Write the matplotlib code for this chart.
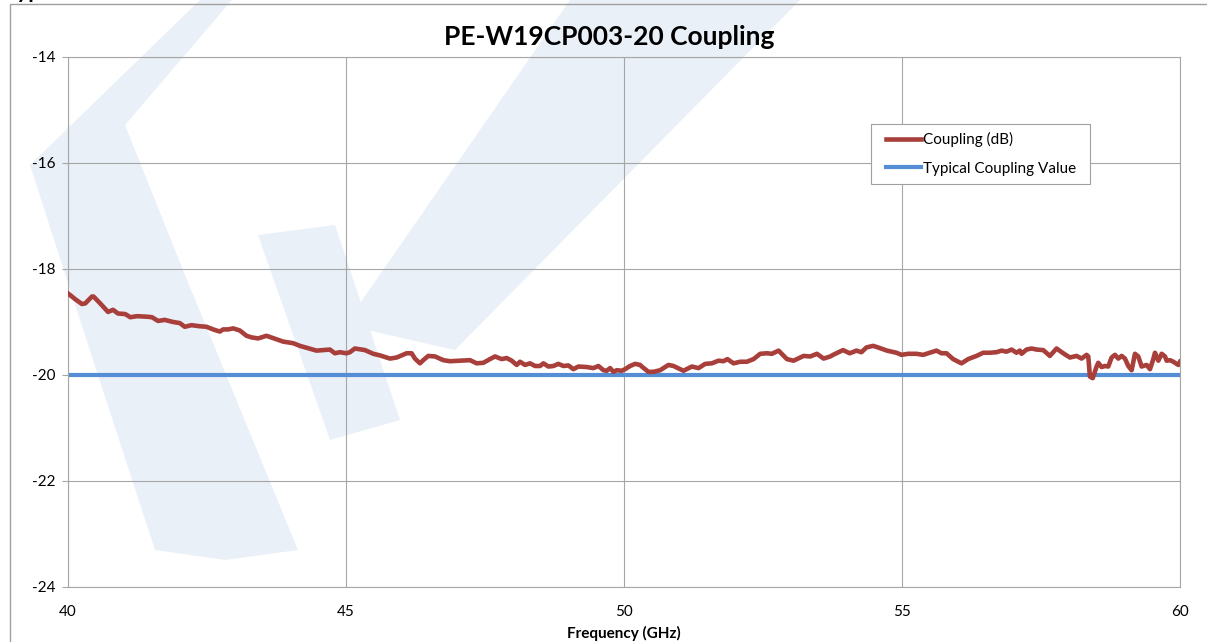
import numpy as np
import matplotlib
matplotlib.use("Agg")
import matplotlib.pyplot as plt
from matplotlib.patches import Polygon, Rectangle

plt.rcParams['font.family'] = ['Lato', 'DejaVu Sans']

freq_ghz = [
    40.00, 40.13, 40.25, 40.31, 40.43, 40.46, 40.58, 40.72, 40.81, 40.90,
    41.03, 41.12, 41.24, 41.42, 41.51, 41.62, 41.74, 41.89, 42.01, 42.10,
    42.22, 42.37, 42.49, 42.61, 42.73, 42.79, 42.88, 42.97, 43.09, 43.21,
    43.30, 43.42, 43.57, 43.87, 44.05, 44.17, 44.47, 44.71, 44.80, 44.89,
    45.01, 45.07, 45.16, 45.34, 45.49, 45.61, 45.79, 45.91, 46.09, 46.18,
    46.24, 46.33, 46.39, 46.48, 46.60, 46.75, 46.87, 47.05, 47.23, 47.35,
    47.47, 47.59, 47.68, 47.80, 47.89, 47.98, 48.07, 48.13, 48.22, 48.31,
    48.40, 48.49, 48.55, 48.64, 48.73, 48.82, 48.91, 49.00, 49.09, 49.18,
    49.33, 49.45, 49.54, 49.63, 49.69, 49.75, 49.81, 49.87, 49.96, 50.02,
    50.11, 50.20, 50.29, 50.32, 50.44, 50.53, 50.65, 50.80, 50.89, 51.07,
    51.22, 51.34, 51.46, 51.58, 51.70, 51.79, 51.86, 51.97, 52.09, 52.21,
    52.33, 52.45, 52.57, 52.66, 52.78, 52.93, 53.05, 53.23, 53.35, 53.47,
    53.59, 53.71, 53.76, 53.94, 54.06, 54.18, 54.27, 54.36, 54.48, 54.57,
    54.73, 54.90, 54.99, 55.11, 55.26, 55.38, 55.50, 55.62, 55.71, 55.80,
    55.92, 56.07, 56.19, 56.34, 56.46, 56.58, 56.70, 56.79, 56.88, 56.97,
    57.06, 57.12, 57.15, 57.24, 57.33, 57.42, 57.54, 57.66, 57.78, 57.90,
    58.02, 58.14, 58.23, 58.32, 58.35, 58.38, 58.43, 58.50, 58.53, 58.59,
    58.65, 58.71, 58.77, 58.83, 58.89, 58.95, 59.01, 59.07, 59.13, 59.19,
    59.25, 59.31, 59.40, 59.46, 59.52, 59.55, 59.61, 59.67, 59.73, 59.76,
    59.82, 59.88, 59.97, 60.00,
]
coupling_db = [
    -18.46, -18.57, -18.66, -18.65, -18.52, -18.52, -18.65, -18.81, -18.77, -18.84,
    -18.85, -18.91, -18.89, -18.90, -18.91, -18.98, -18.96, -19.00, -19.02, -19.09,
    -19.06, -19.08, -19.09, -19.14, -19.18, -19.14, -19.14, -19.12, -19.16, -19.26,
    -19.29, -19.31, -19.26, -19.37, -19.40, -19.45, -19.54, -19.52, -19.59, -19.57,
    -19.59, -19.57, -19.50, -19.53, -19.60, -19.63, -19.69, -19.67, -19.59, -19.59,
    -19.69, -19.78, -19.72, -19.64, -19.65, -19.72, -19.74, -19.73, -19.72, -19.78,
    -19.77, -19.70, -19.65, -19.70, -19.68, -19.73, -19.81, -19.75, -19.81, -19.78,
    -19.83, -19.83, -19.78, -19.84, -19.83, -19.79, -19.83, -19.82, -19.89, -19.84,
    -19.85, -19.87, -19.83, -19.91, -19.92, -19.87, -19.94, -19.91, -19.92, -19.89,
    -19.83, -19.79, -19.81, -19.84, -19.94, -19.94, -19.91, -19.81, -19.83, -19.92,
    -19.84, -19.87, -19.79, -19.78, -19.73, -19.74, -19.70, -19.78, -19.75, -19.75,
    -19.70, -19.60, -19.59, -19.60, -19.54, -19.70, -19.73, -19.64, -19.65, -19.60,
    -19.69, -19.65, -19.62, -19.53, -19.59, -19.54, -19.57, -19.48, -19.45, -19.48,
    -19.54, -19.58, -19.62, -19.60, -19.60, -19.62, -19.58, -19.54, -19.59, -19.59,
    -19.70, -19.78, -19.70, -19.64, -19.58, -19.58, -19.57, -19.54, -19.56, -19.52,
    -19.58, -19.54, -19.60, -19.52, -19.50, -19.52, -19.53, -19.64, -19.50, -19.59,
    -19.67, -19.64, -19.69, -19.62, -19.65, -20.03, -20.06, -19.84, -19.77, -19.85,
    -19.83, -19.84, -19.67, -19.62, -19.69, -19.64, -19.69, -19.83, -19.91, -19.60,
    -19.65, -19.84, -19.81, -19.89, -19.70, -19.58, -19.73, -19.60, -19.65, -19.73,
    -19.72, -19.75, -19.81, -19.75,
]
typical_db = -20.0

x_ticks = [40, 45, 50, 55, 60]
y_ticks = [-24, -22, -20, -18, -16, -14]

W, H = 1207, 642
fig = plt.figure(figsize=(W / 100, H / 100), dpi=100)

# background layer in pixel coords: faint logo watermark + chart border
bg = fig.add_axes([0, 0, 1, 1], zorder=0)
bg.set_xlim(0, W)
bg.set_ylim(H, 0)
bg.axis('off')
wm = '#e9f0f8'
shapes = [
    [(200, 0), (232, 0), (125, 125), (187, 280), (220, 360), (298, 550),
     (225, 560), (155, 550), (67, 280), (30, 165)],
    [(258, 235), (335, 225), (400, 420), (330, 440)],
    [(570, 0), (800, 0), (455, 350), (345, 325)],
]
for pts in shapes:
    bg.add_patch(Polygon(pts, closed=True, facecolor=wm, edgecolor='none'))
bg.add_patch(Rectangle((10, 4), W + 20, H + 20, fill=False,
                       edgecolor='#a0a0a0', linewidth=1.0))

# cut-off heading text above the chart
fig.text(4 / W, 1 + 2 / H, 'Typ', fontsize=16, fontweight='bold',
         va='baseline', ha='left', color='black')

fig.text(609 / W, 1 - 37 / H, 'PE-W19CP003-20 Coupling', fontsize=19,
         fontweight='bold', ha='center', va='center')

ax = fig.add_axes([68 / W, 1 - 587 / H, (1180 - 68) / W, (587 - 57) / H], zorder=2)
ax.patch.set_alpha(0)

ax.plot(freq_ghz, coupling_db, color='#a83f3b', lw=3.3, label='Coupling (dB)',
        solid_joinstyle='round', zorder=3)
ax.axhline(typical_db, color='#558ed5', lw=3.0, label='Typical Coupling Value', zorder=2)

ax.set_xlim(40, 60)
ax.set_ylim(-24, -14)
ax.set_xticks(x_ticks)
ax.set_yticks(y_ticks)
ax.set_yticklabels([str(v) for v in y_ticks])
ax.grid(True, color='#a6a6a6', lw=0.8)
ax.set_axisbelow(True)
for s in ax.spines.values():
    s.set_color('#a6a6a6')
    s.set_linewidth(0.8)
ax.tick_params(axis='y', length=4, color='#a6a6a6', labelsize=11, pad=5)
ax.tick_params(axis='x', length=0, labelsize=11, pad=13)

ax.set_xlabel('Frequency (GHz)', fontsize=11, fontweight='bold', labelpad=5)

# legend box drawn separately so its padding can match the reference
ax.add_patch(Rectangle((871 / W, 1 - 184 / H), 219 / W, 60 / H,
                       transform=fig.transFigure, facecolor='white',
                       edgecolor='#a0a0a0', linewidth=0.8, zorder=4))
leg = ax.legend(loc='upper left', bbox_to_anchor=(0.7283, 0.874), borderaxespad=0,
                fontsize=11, handlelength=2.3, handletextpad=0.1, labelspacing=0.95,
                borderpad=0.55, frameon=False)
leg.set_zorder(5)

fig.savefig('out.png', dpi=100)
